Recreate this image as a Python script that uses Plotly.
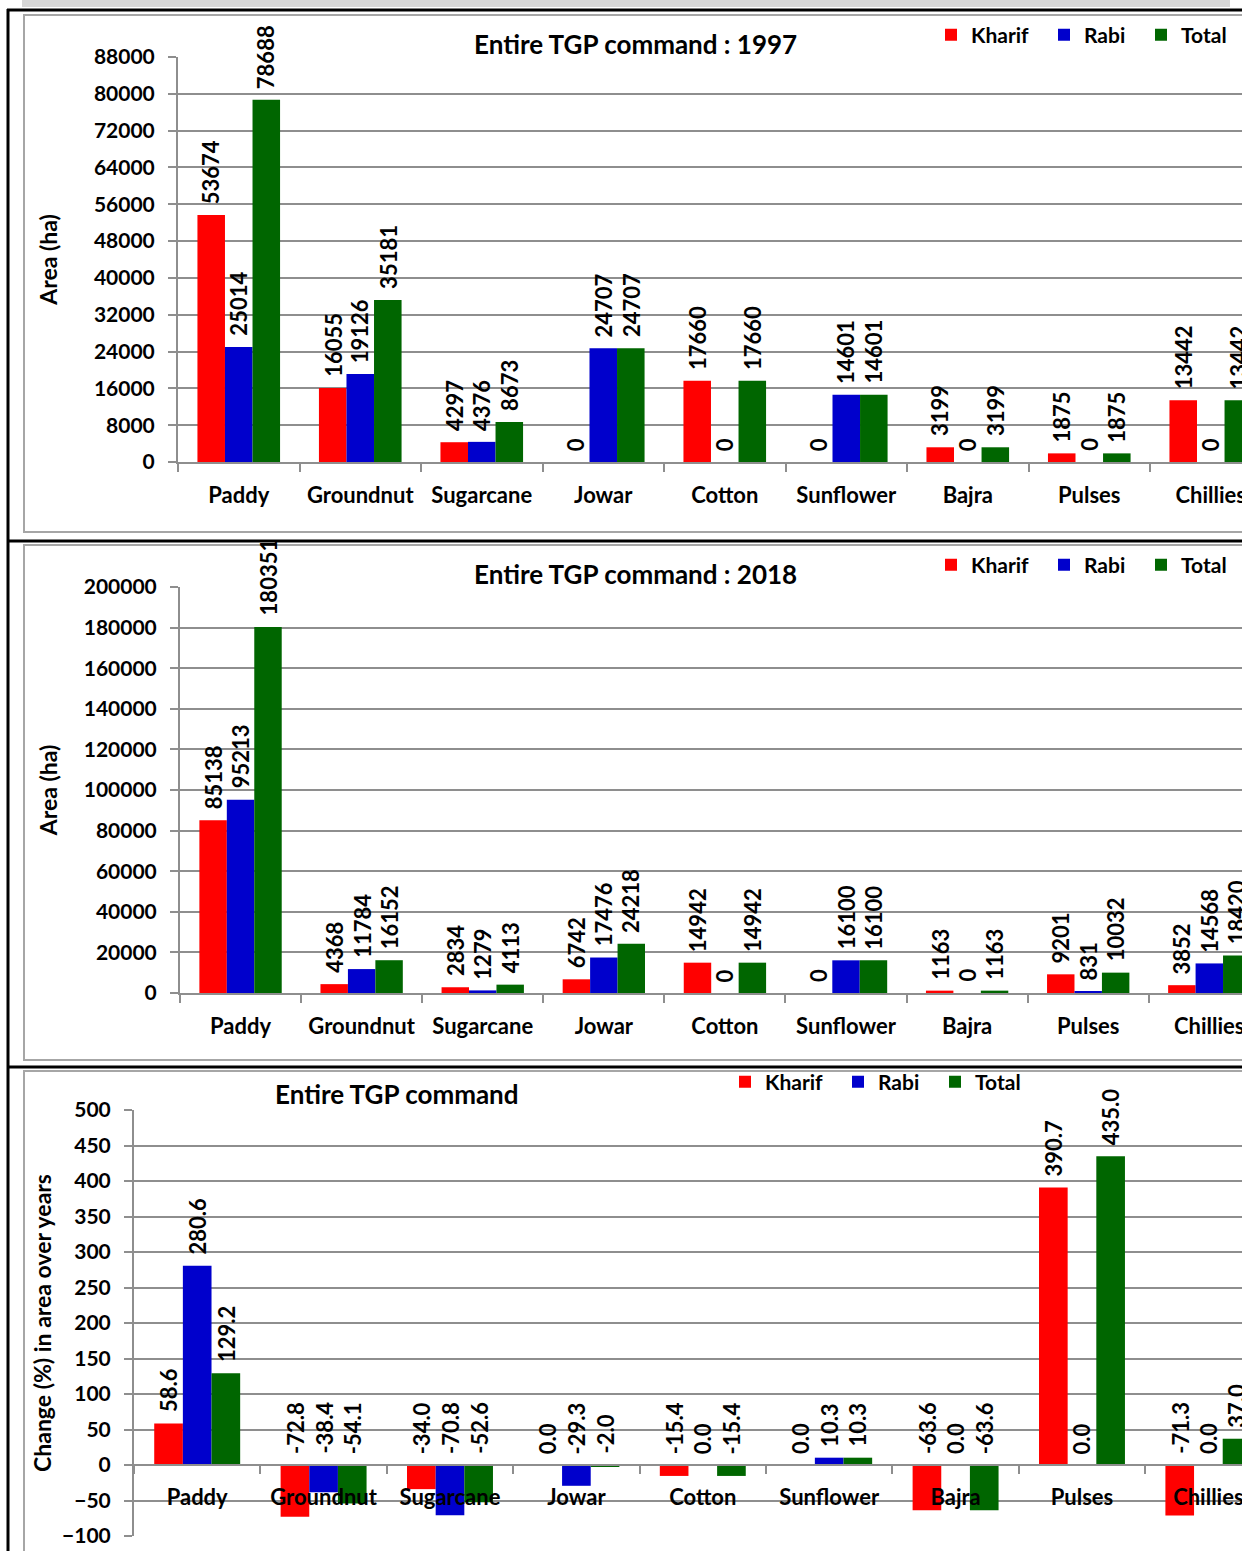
import plotly.graph_objects as go

# ---- data -------------------------------------------------------------
crops = ["Paddy", "Groundnut", "Sugarcane", "Jowar", "Cotton",
         "Sunflower", "Bajra", "Pulses", "Chillies"]
series_names = ["Kharif", "Rabi", "Total"]
series_colors = ["#FF0000", "#0000CC", "#006600"]

kharif_1997 = [53674, 16055, 4297, 0, 17660, 0, 3199, 1875, 13442]
rabi_1997 = [25014, 19126, 4376, 24707, 0, 14601, 0, 0, 0]
total_1997 = [78688, 35181, 8673, 24707, 17660, 14601, 3199, 1875, 13442]

kharif_2018 = [85138, 4368, 2834, 6742, 14942, 0, 1163, 9201, 3852]
rabi_2018 = [95213, 11784, 1279, 17476, 0, 16100, 0, 831, 14568]
total_2018 = [180351, 16152, 4113, 24218, 14942, 16100, 1163, 10032, 18420]

kharif_change = [58.6, -72.8, -34.0, 0.0, -15.4, 0.0, -63.6, 390.7, -71.3]
rabi_change = [280.6, -38.4, -70.8, -29.3, 0.0, 10.3, 0.0, 0.0, 0.0]
total_change = [129.2, -54.1, -52.6, -2.0, -15.4, 10.3, -63.6, 435.0, 37.0]

# ---- page geometry ----------------------------------------------------
W, H = 1242, 1551
FONT = "Lato"
GRID = "#8E8E8E"
BARGAP = 0.32
BAR_W = (1 - BARGAP) / 3


def fx(px):
    return px / W


def fy(py):
    return 1 - py / H


panels = [
    dict(series=[kharif_1997, rabi_1997, total_1997], fmt="{:.0f}",
         x0=178, y_top=57, y_bot=462, xmax=8.257,
         yrange=[0, 88000], dtick=8000, ytitle="Area (ha)", standoff=30,
         title="Entire TGP command : 1997", title_xy=(635, 44),
         legend_xy=(931, 35)),
    dict(series=[kharif_2018, rabi_2018, total_2018], fmt="{:.0f}",
         x0=180, y_top=587, y_bot=993, xmax=8.27,
         yrange=[0, 200000], dtick=20000, ytitle="Area (ha)", standoff=20,
         title="Entire TGP command : 2018", title_xy=(635, 574),
         legend_xy=(931, 565)),
    dict(series=[kharif_change, rabi_change, total_change], fmt="{:.1f}",
         x0=134, y_top=1110, y_bot=1536, xmax=8.266,
         yrange=[-100, 500], dtick=50,
         ytitle="Change (%) in area over years", standoff=4,
         title="Entire TGP command", title_xy=(397, 1094),
         legend_xy=(725, 1082)),
]

fig = go.Figure()
annotations = []
layout = {}

for p_i, p in enumerate(panels):
    n = "" if p_i == 0 else str(p_i + 1)
    xa, ya = "x" + n, "y" + n
    leg = "legend" + n

    for k, (name, color, vals) in enumerate(zip(series_names, series_colors, p["series"])):
        fig.add_trace(go.Bar(
            x=crops, y=vals, name=name, marker=dict(color=color, line=dict(width=0)),
            xaxis=xa, yaxis=ya, legend=leg, hoverinfo="x+y+name",
            legendwidth=[68, 52, 50][k],
        ))
        # value labels drawn above the bar end (or above zero for negative bars)
        for i, v in enumerate(vals):
            annotations.append(dict(
                x=i + (k - 1) * BAR_W, y=max(v, 0), xref=xa, yref=ya,
                text=p["fmt"].format(v), textangle=-90, showarrow=False,
                xanchor="center", yanchor="bottom", yshift=9,
                font=dict(family=FONT, size=22, color="black", weight=700),
            ))

    y_dom = [fy(p["y_bot"]), fy(p["y_top"])]
    ymin, ymax = p["yrange"]

    xaxis = dict(
        domain=[fx(p["x0"]), 1], range=[-0.5, p["xmax"]], type="category",
        showgrid=False, showline=True, linecolor=GRID, linewidth=2,
        ticks="outside", tickson="boundaries", ticklen=8, tickwidth=2, tickcolor=GRID,
        tickfont=dict(family=FONT, size=22, color="black", weight=700),
        ticklabelstandoff=13, zeroline=False, fixedrange=True, automargin=False,
    )
    if ymin < 0:
        zero_pos = y_dom[0] + (0 - ymin) / (ymax - ymin) * (y_dom[1] - y_dom[0])
        xaxis.update(anchor="free", position=zero_pos)
    else:
        xaxis.update(anchor=ya)

    yaxis = dict(
        domain=y_dom, range=p["yrange"], dtick=p["dtick"], tick0=0, anchor=xa,
        tickformat="d", automargin=False,
        showgrid=True, gridcolor=GRID, gridwidth=2, showline=True,
        linecolor=GRID, linewidth=2, ticks="outside", ticklen=8, tickwidth=2,
        tickcolor=GRID, zeroline=False, fixedrange=True,
        tickfont=dict(family=FONT, size=21, color="black", weight=700),
        ticklabelstandoff=9,
        title=dict(text=p["ytitle"], standoff=p["standoff"],
                   font=dict(family=FONT, size=23, color="black", weight=700)),
    )

    layout["xaxis" + n] = xaxis
    layout["yaxis" + n] = yaxis
    layout[leg] = dict(
        orientation="h", x=fx(p["legend_xy"][0]), y=fy(p["legend_xy"][1]),
        xanchor="left", yanchor="middle", bgcolor="rgba(0,0,0,0)",
        font=dict(family=FONT, size=21, color="black", weight=700),
        itemclick=False, itemdoubleclick=False,
    )

    tx, ty = p["title_xy"]
    annotations.append(dict(
        x=fx(tx), y=fy(ty), xref="paper", yref="paper", text=p["title"],
        showarrow=False, xanchor="center", yanchor="middle",
        font=dict(family=FONT, size=26, color="black", weight=700),
    ))

# frames around the three chart blocks
shapes = [
    dict(type="rect", xref="paper", yref="paper", x0=fx(22), x1=fx(1230),
         y0=fy(7), y1=1, fillcolor="#D6D6D6", line=dict(width=0)),
]
for top, bot in [(15, 532), (545, 1060), (1071, 1560)]:
    shapes.append(dict(type="rect", xref="paper", yref="paper",
                       x0=fx(24), x1=fx(1260), y0=fy(bot), y1=fy(top),
                       line=dict(color="#A6A6A6", width=2)))
for yy in (10, 541, 1067):
    shapes.append(dict(type="line", xref="paper", yref="paper",
                       x0=fx(7), x1=fx(1260), y0=fy(yy), y1=fy(yy),
                       line=dict(color="black", width=3)))
shapes.append(dict(type="line", xref="paper", yref="paper",
                   x0=fx(8), x1=fx(8), y0=fy(1560), y1=fy(9),
                   line=dict(color="black", width=3)))

fig.update_layout(
    width=W, height=H, autosize=False,
    margin=dict(l=0, r=0, t=0, b=0, pad=0, autoexpand=False),
    paper_bgcolor="white", plot_bgcolor="white",
    barmode="group", bargap=BARGAP, bargroupgap=0,
    annotations=annotations, shapes=shapes,
    font=dict(family=FONT, color="black"),
    **layout,
)

fig.write_html("out.html", config={"displayModeBar": False})
